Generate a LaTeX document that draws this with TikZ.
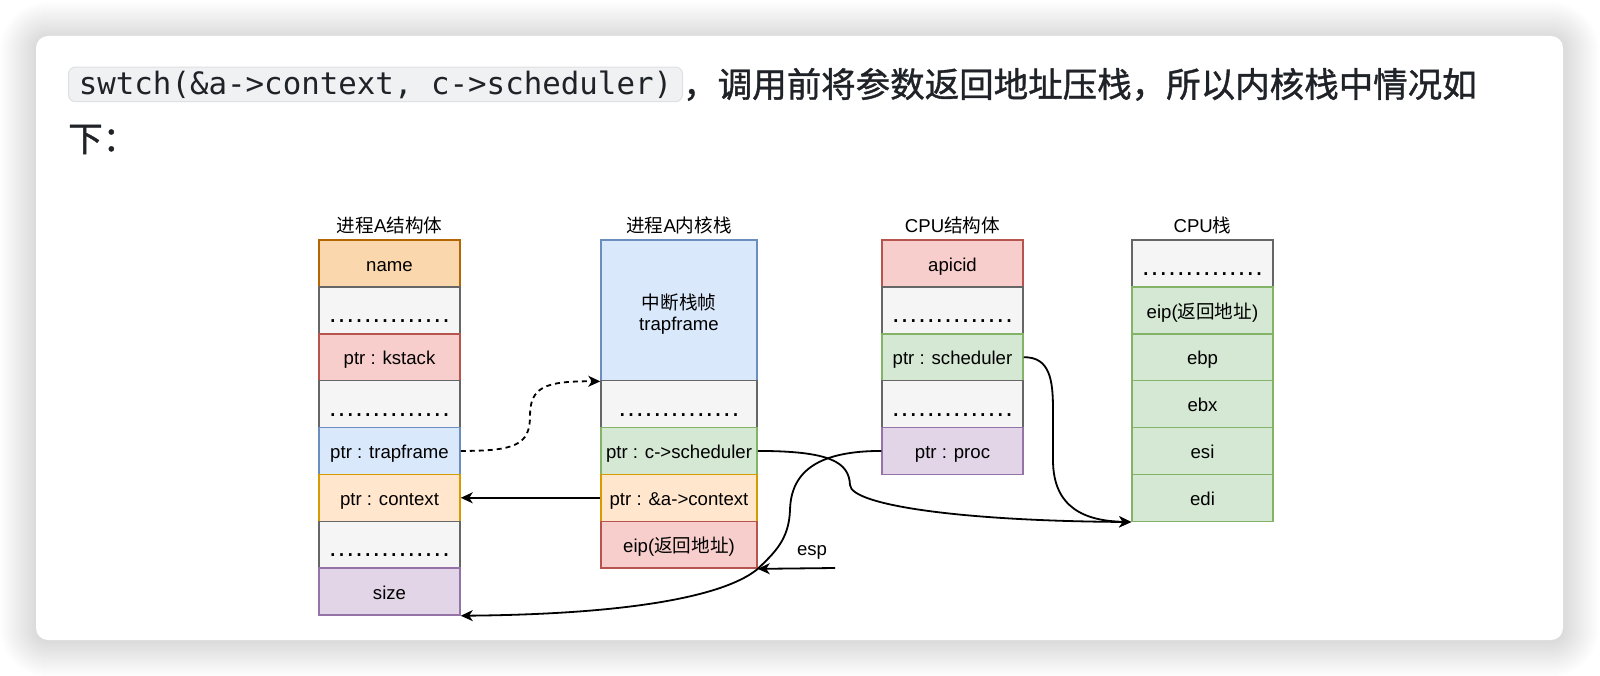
\documentclass[tikz,border=0pt]{standalone}
\usepackage{fontspec}
\setmainfont{Liberation Sans}
\newfontfamily\cjk{Noto Sans CJK SC}
\newfontfamily\cjkb[FakeBold=1.1]{Noto Sans CJK SC}
\newfontfamily\monofont{DejaVu Sans Mono}
\usetikzlibrary{arrows.meta,calc}
\newcommand\zhx[1]{{\cjk #1}}
\newcommand\dd{\makebox[8.7pt]{.}}
\newcommand\dotrow{\dd\dd\dd\dd\dd\dd\dd\dd\dd\dd\dd\dd\dd\dd}
\definecolor{orF}{HTML}{FAD7AC}\definecolor{orD}{HTML}{B46504}
\definecolor{grF}{HTML}{F5F5F5}\definecolor{grD}{HTML}{666666}
\definecolor{rdF}{HTML}{F8CECC}\definecolor{rdD}{HTML}{B85450}
\definecolor{blF}{HTML}{DAE8FC}\definecolor{blD}{HTML}{6C8EBF}
\definecolor{ylF}{HTML}{FFE6CC}\definecolor{ylD}{HTML}{D79B00}
\definecolor{puF}{HTML}{E1D5E7}\definecolor{puD}{HTML}{9673A6}
\definecolor{gnF}{HTML}{D5E8D4}\definecolor{gnD}{HTML}{82B366}
\definecolor{codeF}{HTML}{EFF1F3}\definecolor{codeD}{HTML}{DDE0E4}
\definecolor{txt}{HTML}{1F2328}
\begin{document}
\begin{tikzpicture}[x=1pt,y=-1pt,
  cell/.style={draw, line width=1.5pt, minimum width=141pt, minimum height=46.875pt,
    inner sep=0pt, font=\fontsize{18.6}{22}\selectfont, text=black,
    text height=19.3pt, text depth=3.7pt},
  wide/.style={minimum width=156pt},
  orc/.style={cell, fill=orF, draw=orD},
  gyc/.style={cell, fill=grF, draw=grD, font=\fontsize{27}{27}\selectfont, text height=24pt, text depth=0pt},
  rdc/.style={cell, fill=rdF, draw=rdD},
  blc/.style={cell, fill=blF, draw=blD},
  ylc/.style={cell, fill=ylF, draw=ylD},
  puc/.style={cell, fill=puF, draw=puD},
  gnc/.style={cell, fill=gnF, draw=gnD},
  ttl/.style={font=\fontsize{18.6}{22}\selectfont, inner sep=0pt},
  conn/.style={line width=1.8pt, draw=black},
  tip/.style={-{Stealth[length=12pt,width=11pt,inset=3.5pt]}},
]
\useasboundingbox (0,0) rectangle (1600,676);
\fill[white] (0,0) rectangle (1600,676);
% soft shadow round the card
\foreach \r in {1,...,36}{
  \fill[black, opacity=0.0045, rounded corners=12pt+\r pt]
    (36-\r,38-\r) rectangle (1563+\r,641+\r);
}
\fill[white, rounded corners=12pt] (36,36) rectangle (1563,640);

% header
\node[draw=codeD, fill=codeF, line width=1pt, rounded corners=7pt, anchor=west,
  minimum width=614pt, minimum height=34.7pt, inner sep=0pt, text=txt,
  font=\monofont\fontsize{30.8}{34}\selectfont] (code) at (68,84.4) {swtch(\&a->context, c->scheduler)};
\node[anchor=west, inner sep=0pt, text=txt, font=\cjkb\fontsize{34.5}{40}\selectfont] (line1)
  at (code.east) {，调用前将参数返回地址压栈，所以内核栈中情况如};
\node[anchor=west, inner sep=0pt, text=txt, font=\cjkb\fontsize{34.5}{40}\selectfont] (line2)
  at (68,139.5) {下：};

% titles
\node[ttl] (t1) at (389.5,225.5) {\zhx{进程}A\zhx{结构体}};
\node[ttl] (t2) at (679,225.5) {\zhx{进程}A\zhx{内核栈}};
\node[ttl] (t3) at (952.5,225.5) {CPU\zhx{结构体}};
\node[ttl] (t4) at (1202.5,225.5) {CPU\zhx{栈}};

% column 1: process A struct
\node[orc] (name)  at (389.5,263.44) {name};
\node[gyc] (a1)    at (389.5,310.31) {\dotrow};
\node[rdc] (kst)   at (389.5,357.19) {ptr : kstack};
\node[gyc] (a2)    at (389.5,404.06) {\dotrow};
\node[blc] (tf)    at (389.5,450.94) {ptr : trapframe};
\node[ylc] (ctx1)  at (389.5,497.81) {ptr : context};
\node[gyc] (a3)    at (389.5,544.69) {\dotrow};
\node[puc] (size)  at (389.5,591.56) {size};

% column 2: kernel stack of A
\node[blc, wide, minimum height=140.625pt, align=center, text height=, text depth=] (kfr) at (679,310.31)
  {\zhx{中断栈帧}\rule{0pt}{22.5pt}\\[-1pt]trapframe};
\node[gyc, wide] (b1)   at (679,404.06) {\dotrow};
\node[gnc, wide] (csch) at (679,450.94) {ptr : c->scheduler};
\node[ylc, wide] (ctx2) at (679,497.81) {ptr : \&a->context};
\node[rdc, wide] (eipA) at (679,544.69) {eip(\zhx{返回地址})};

% column 3: CPU struct
\node[rdc] (api)  at (952.5,263.44) {apicid};
\node[gyc] (c1)   at (952.5,310.31) {\dotrow};
\node[gnc] (sch)  at (952.5,357.19) {ptr : scheduler};
\node[gyc] (c2)   at (952.5,404.06) {\dotrow};
\node[puc] (proc) at (952.5,450.94) {ptr : proc};

% column 4: CPU stack
\node[gyc] (d1)   at (1202.5,263.44) {\dotrow};
\node[gnc] (eipB) at (1202.5,310.31) {eip(\zhx{返回地址})};
\node[gnc] (ebp)  at (1202.5,357.19) {ebp};
\node[gnc] (ebx)  at (1202.5,404.06) {ebx};
\node[gnc] (esi)  at (1202.5,450.94) {esi};
\node[gnc] (edi)  at (1202.5,497.81) {edi};

% connectors
\draw[conn, tip, dash pattern=on 5pt off 4pt] (tf.east)
  .. controls (515,451) and (530,445) .. (530,416)
  .. controls (530,387) and (545,381) .. (kfr.south west);
\draw[conn, tip] (ctx2.west) -- (ctx1.east);
\draw[conn, tip] (csch.east)
  .. controls (830,451) and (849,462) .. (850,485)
  .. controls (851,505) and (960,521) .. (edi.south west);
\draw[conn, tip] (sch.east)
  .. controls (1050,357) and (1053,380) .. (1053,410) -- (1053,460)
  .. controls (1053,508) and (1085,521) .. (edi.south west);
\draw[conn, tip] (proc.west)
  .. controls (820,451) and (791,470) .. (790,510)
  .. controls (789,540) and (774,553) .. (eipA.south east)
  .. controls (730,592) and (650,614) .. (size.south east);
\coordinate (espS) at (835,568);
\draw[conn, tip] (espS) -- (eipA.south east);
\node[ttl] (esp) at (812,552) {esp};
\end{tikzpicture}
\end{document}
